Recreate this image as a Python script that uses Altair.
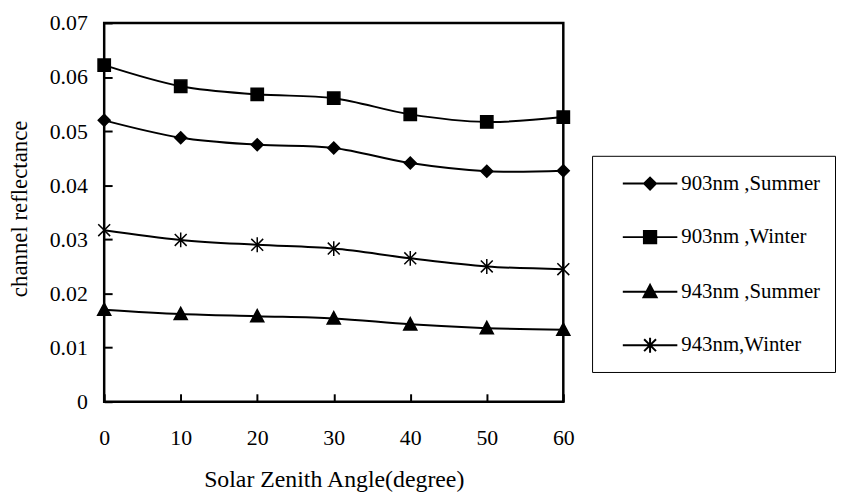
import altair as alt
import pandas as pd

angles = [0, 10, 20, 30, 40, 50, 60]
series = ["903nm ,Summer", "903nm ,Winter", "943nm ,Summer", "943nm,Winter"]
s903 = [0.0520, 0.0488, 0.0475, 0.0469, 0.0441, 0.0426, 0.0427]
w903 = [0.0622, 0.0583, 0.0568, 0.0561, 0.0531, 0.0517, 0.0526]
s943 = [0.0170, 0.0162, 0.0158, 0.0154, 0.0143, 0.0136, 0.0133]
w943 = [0.0317, 0.0299, 0.0290, 0.0283, 0.0265, 0.0250, 0.0245]
y_ticks = [0.0, 0.01, 0.02, 0.03, 0.04, 0.05, 0.06, 0.07]

rows = []
for name, vals in zip(series, [s903, w903, s943, w943]):
    for a, v in zip(angles, vals):
        rows.append({"angle": a, "value": v, "series": name})
df = pd.DataFrame(rows)

FONT = "Liberation Serif"


def fmt(v):
    return f"{v:.4f}".rstrip("0").rstrip(".")


def marker(kind, cx, s):
    # s: scale factor from pixel units to symbol units
    if kind == "diamond":
        h = 6.0
        return f"M{fmt(cx)},{fmt(-h*s)}L{fmt(cx+h*s)},0L{fmt(cx)},{fmt(h*s)}L{fmt(cx-h*s)},0Z"
    if kind == "square":
        h = 6.2
        return (f"M{fmt(cx-h*s)},{fmt(-h*s)}L{fmt(cx+h*s)},{fmt(-h*s)}"
                f"L{fmt(cx+h*s)},{fmt(h*s)}L{fmt(cx-h*s)},{fmt(h*s)}Z")
    if kind == "triangle":
        w, t, b = 6.6, 6.8, 5.6
        return f"M{fmt(cx)},{fmt(-t*s)}L{fmt(cx+w*s)},{fmt(b*s)}L{fmt(cx-w*s)},{fmt(b*s)}Z"
    # asterisk
    v, d = 7.5, 6.0
    return (f"M{fmt(cx)},{fmt(-v*s)}L{fmt(cx)},{fmt(v*s)}"
            f"M{fmt(cx-d*s)},{fmt(-d*s)}L{fmt(cx+d*s)},{fmt(d*s)}"
            f"M{fmt(cx-d*s)},{fmt(d*s)}L{fmt(cx+d*s)},{fmt(-d*s)}")


kinds = ["diamond", "square", "triangle", "star"]

# plot markers: symbol size 256 -> radius 8 px
PT_R = 8.0
marker_paths = [marker(k, 0, 1 / PT_R) for k in kinds]

# legend symbols: size 576 -> radius 12 px; line + marker drawn right of the symbol slot
LG_R = 12.0
line_a, line_b, mk = 3.0, 58.0, 30.5
legend_paths = [
    f"M{fmt(line_a/LG_R)},0L{fmt(line_b/LG_R)},0" + marker(k, mk / LG_R, 1 / LG_R)
    for k in kinds
]

xaxis = alt.Axis(
    values=angles, domain=False, grid=False, offset=-8, tickSize=8, tickWidth=2,
    tickColor="black", labelFont=FONT, labelFontSize=22, labelColor="black",
    labelPadding=26, labelFlush=False, title="Solar Zenith Angle(degree)",
    titleFont=FONT, titleFontSize=24, titleFontWeight="normal", titleColor="black",
    titleY=86, titleBaseline="middle",
)
yaxis = alt.Axis(
    values=y_ticks, domain=False, grid=False, offset=-8, tickSize=8, tickWidth=2,
    tickColor="black", labelFont=FONT, labelFontSize=22, labelColor="black",
    labelPadding=17, labelFlush=False,
    labelExpr="datum.value == 0 ? '0' : format(datum.value, '.2f')",
    title="channel reflectance", titleFont=FONT, titleFontSize=23,
    titleFontWeight="normal", titleColor="black", titleX=-93, titleY=187,
    titleBaseline="middle",
)

base = alt.Chart(df).encode(
    x=alt.X("angle:Q", scale=alt.Scale(domain=[0, 60], nice=False), axis=xaxis),
    y=alt.Y("value:Q", scale=alt.Scale(domain=[0, 0.07], nice=False), axis=yaxis),
)

lines = base.mark_line(interpolate="cardinal", color="black", strokeWidth=2).encode(
    detail="series:N"
)

points = base.mark_point(
    filled=True, fill="black", stroke="black", strokeWidth=1.5, opacity=1, size=PT_R**2 * 4
).encode(
    shape=alt.Shape("series:N", scale=alt.Scale(domain=series, range=marker_paths), legend=None)
)

nbsp = "\u00a0"
legend = alt.Legend(
    orient="none", legendX=492, legendY=134, title=None,
    symbolSize=(2 * LG_R) ** 2, symbolStrokeWidth=2, symbolOpacity=1,
    labelFont=FONT, labelFontSize=21, labelColor="black", labelOffset=49,
    labelLimit=400, labelExpr=f"datum.label + '{nbsp * 2}'",
    padding=15, rowPadding=31, strokeColor="black",
)

carrier = base.mark_point(
    filled=True, fill="black", stroke="black", strokeWidth=2, opacity=1
).encode(
    shape=alt.Shape("series:N", scale=alt.Scale(domain=series, range=legend_paths), legend=legend)
).transform_filter("false")

chart = (
    alt.layer(lines, points, carrier)
    .resolve_scale(shape="independent")
    .properties(
        width=463, height=382,
        padding={"left": 97, "top": 13, "right": 275, "bottom": 92},
        autosize=alt.AutoSizeParams(type="none"),
        background="white",
    )
    .configure_view(stroke="black", strokeWidth=2.5)
)

chart.save("out.html", embed_options={"renderer": "svg", "actions": False})
